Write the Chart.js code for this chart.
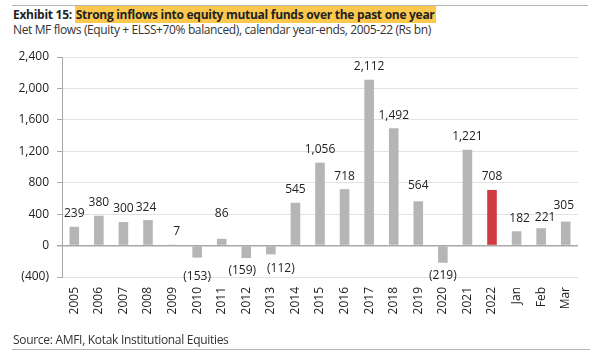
<!DOCTYPE html>
<html>
<head>
<meta charset="utf-8">
<script src="https://cdn.jsdelivr.net/npm/chart.js@4/dist/chart.umd.min.js"></script>
<style>
  html, body { margin: 0; padding: 0; background: #fff; }
  body { width: 600px; height: 357px; position: relative; overflow: hidden; font-family: "Open Sans", "Noto Sans", sans-serif; color: #222; }
  #topline { position: absolute; left: 12px; top: 5px; width: 576px; height: 1px; background: #b5b5b5; }
  #title { position: absolute; left: 13px; top: 7px; font-size: 12px; font-weight: bold; line-height: 15px; white-space: nowrap; letter-spacing: -0.28px; }
  #title .hl { background: #fdc84e; padding: 0 1px; }
  #subtitle { position: absolute; left: 13px; top: 22px; font-size: 12px; line-height: 15px; white-space: nowrap; color: #333; letter-spacing: -0.37px; }
  #source { position: absolute; left: 13px; top: 332px; font-size: 12px; line-height: 15px; white-space: nowrap; color: #333; letter-spacing: -0.3px; }
  #botline { position: absolute; left: 12px; top: 349px; width: 578px; height: 1px; background: #b5b5b5; }
  #wrap { position: absolute; left: 0; top: 0; width: 600px; height: 357px; }
</style>
</head>
<body>
<div id="topline"></div>
<div id="title">Exhibit 15: <span class="hl">Strong inflows into equity mutual funds over the past one year</span></div>
<div id="subtitle">Net MF flows (Equity + ELSS+70% balanced), calendar year-ends, 2005-22 (Rs bn)</div>
<div id="wrap"><canvas id="c" width="600" height="357"></canvas></div>
<div id="source">Source: AMFI, Kotak Institutional Equities</div>
<div id="botline"></div>
<script>
const categories = ["2005","2006","2007","2008","2009","2010","2011","2012","2013","2014","2015","2016","2017","2018","2019","2020","2021","2022","Jan","Feb","Mar"];
const flows = [239, 380, 300, 324, 7, -153, 86, -159, -112, 545, 1056, 718, 2112, 1492, 564, -219, 1221, 708, 182, 221, 305];
const highlightCategory = "2022";
const yTicks = [-400, 0, 400, 800, 1200, 1600, 2000, 2400];

const GRAY = "#b5b5b5";
const RED = "#cf3b40";
const colors = categories.map(c => c === highlightCategory ? RED : GRAY);

function fmt(v) {
  const s = Math.abs(v).toLocaleString("en-US");
  return v < 0 ? "(" + s + ")" : s;
}

// label nudges (styling only), keyed by category
const labelNudge = {
  "2008": [-2, 0], "2009": [4, 0], "2010": [0, 6], "2011": [0, -12],
  "2012": [-4, 0], "2013": [10, 1], "2019": [0, -3],
  "Jan": [3, 0], "Feb": [4, 2], "Mar": [-2, -3]
};

const valueLabels = {
  id: "valueLabels",
  afterDatasetsDraw(chart) {
    const ctx = chart.ctx;
    const meta = chart.getDatasetMeta(0);
    ctx.save();
    ctx.font = "12px 'Open Sans', 'Noto Sans', sans-serif";
    ctx.fillStyle = "#222";
    ctx.textAlign = "center";
    ctx.textBaseline = "middle";
    meta.data.forEach((bar, i) => {
      const v = flows[i];
      const n = labelNudge[categories[i]] || [0, 0];
      const y = (v >= 0 ? bar.y - 13 : bar.y + 13) + n[1];
      ctx.fillText(fmt(v), bar.x + n[0], y);
    });
    ctx.restore();
  }
};

new Chart(document.getElementById("c"), {
  type: "bar",
  data: {
    labels: categories,
    datasets: [{
      data: flows,
      backgroundColor: colors,
      borderWidth: 0,
      barPercentage: 0.39,
      categoryPercentage: 1.0
    }]
  },
  options: {
    responsive: false,
    animation: false,
    devicePixelRatio: 1,
    layout: { padding: { left: 0, right: 22, top: 57, bottom: 30 } },
    plugins: { legend: { display: false }, tooltip: { enabled: false } },
    scales: {
      x: {
        grid: { display: false, drawTicks: false },
        border: { display: false },
        ticks: {
          minRotation: 90, maxRotation: 90, autoSkip: false, padding: 10,
          color: "#222",
          font: { family: "'Open Sans', 'Noto Sans', sans-serif", size: 12 }
        },
        afterFit(s) { s.height = 50; }
      },
      y: {
        min: -400, max: 2400,
        afterBuildTicks(s) { s.ticks = yTicks.map(v => ({ value: v })); },
        ticks: {
          padding: 8,
          color: "#222",
          font: { family: "'Open Sans', 'Noto Sans', sans-serif", size: 12 },
          callback: v => fmt(v)
        },
        grid: {
          color: ctx => (ctx.tick && ctx.tick.value === 0) ? "#a8a8a8" : "#e2e2e2",
          tickColor: "#a8a8a8",
          tickLength: 5,
          lineWidth: ctx => (ctx.tick && ctx.tick.value === 0) ? 1.5 : 1
        },
        border: { display: true, color: "#a8a8a8", width: 1 },
        afterFit(s) { s.width = 62; }
      }
    }
  },
  plugins: [valueLabels]
});
</script>
</body>
</html>
